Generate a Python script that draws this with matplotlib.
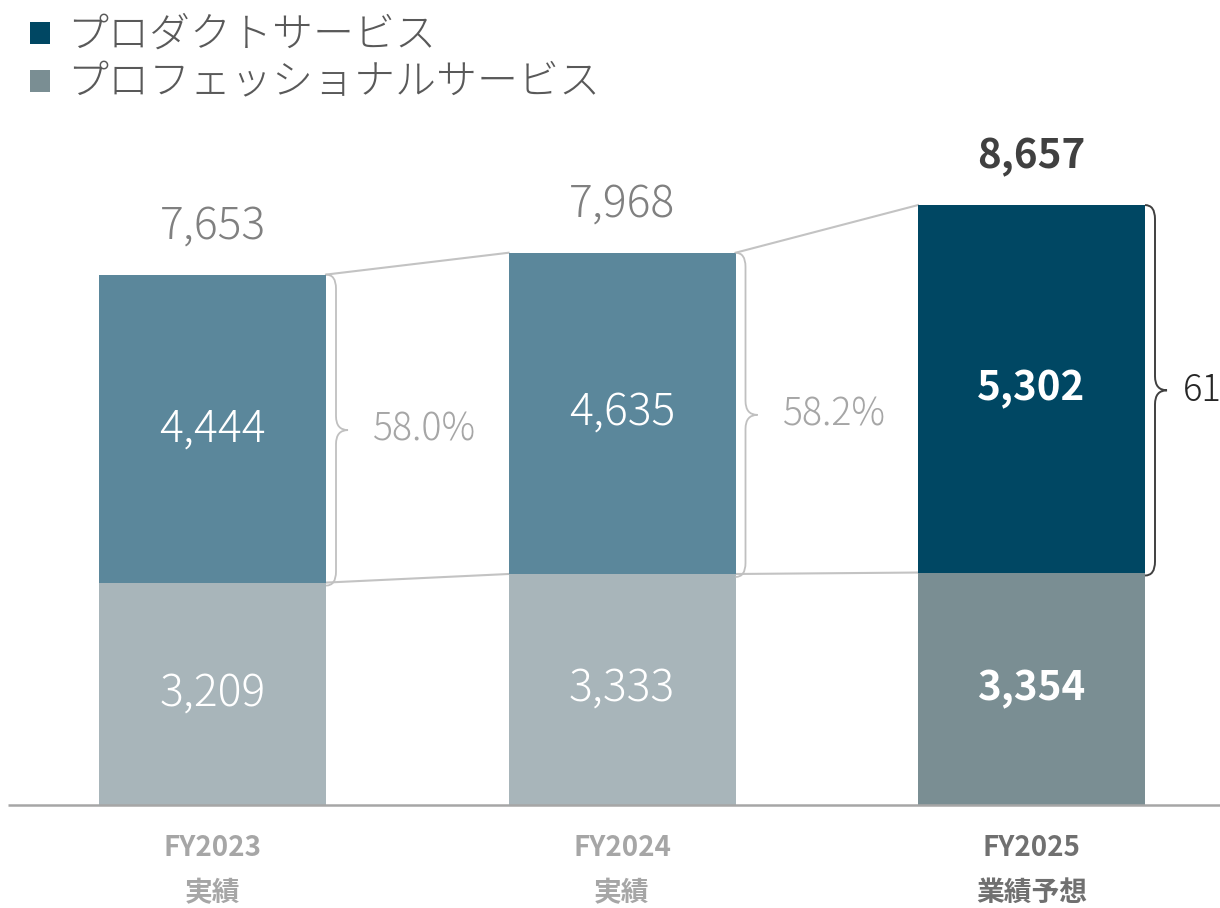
import matplotlib
matplotlib.use("Agg")
import matplotlib.pyplot as plt
from matplotlib.path import Path
from matplotlib.patches import PathPatch, Rectangle

plt.rcParams['font.family'] = ['Noto Sans CJK JP', 'DejaVu Sans']

# ---- data ----
years = ["FY2023", "FY2024", "FY2025"]
sublabels = ["実績", "実績", "業績予想"]
professional = [3209, 3333, 3354]
product = [4444, 4635, 5302]
totals = [7653, 7968, 8657]
share_labels = ["58.0%", "58.2%", "61.2%"]
legend_labels = ["プロダクトサービス", "プロフェッショナルサービス"]

# ---- style ----
top_colors = ["#5b879b", "#5b879b", "#004763"]
bot_colors = ["#a8b5ba", "#a8b5ba", "#7a8e93"]

W, H = 1220, 908
fig = plt.figure(figsize=(W / 100, H / 100), dpi=100)
ax = fig.add_axes([0, 0, 1, 1])
ax.set_axis_off()

spacing_px = 409.5
c0_px = 212.5
base_px = 103  # from bottom
scale = 600 / 8657  # px per unit
upp = 1 / scale  # units per px
xl = -c0_px / spacing_px
xr = (W - c0_px) / spacing_px
ax.set_xlim(xl, xr)
ax.set_ylim(-base_px * upp, (H - base_px) * upp)
dxp = 1 / spacing_px  # x data per px
bw = 227 * dxp

x = list(range(len(years)))
tops = [a + b for a, b in zip(professional, product)]

ax.bar(x, professional, width=bw, color=bot_colors, zorder=2)
ax.bar(x, product, bottom=professional, width=bw, color=top_colors, zorder=2)

# baseline
ax.plot([xl + 8 * dxp, xr], [0, 0], color="#a6a6a6", lw=1.8, zorder=3, solid_capstyle='butt')

# connector lines
for i in range(len(x) - 1):
    xa = x[i] + bw / 2
    xb = x[i + 1] - bw / 2
    ax.plot([xa, xb], [tops[i], tops[i + 1]], color="#c3c3c3", lw=1.5, zorder=1)
    ax.plot([xa, xb], [professional[i], professional[i + 1]], color="#c3c3c3", lw=1.5, zorder=1)


def brace(x0, ybot, ytop, color, lw):
    h = 10 * dxp
    w = 22 * dxp
    r = 14 * upp
    ymid = (ybot + ytop) / 2
    verts = [
        (x0, ytop),
        (x0 + h, ytop), (x0 + h, ytop - r),
        (x0 + h, ymid + r),
        (x0 + h, ymid), (x0 + w, ymid),
        (x0 + h, ymid), (x0 + h, ymid - r),
        (x0 + h, ybot + r),
        (x0 + h, ybot), (x0, ybot),
    ]
    codes = [Path.MOVETO, Path.CURVE3, Path.CURVE3, Path.LINETO,
             Path.CURVE3, Path.CURVE3, Path.CURVE3, Path.CURVE3,
             Path.LINETO, Path.CURVE3, Path.CURVE3]
    ax.add_patch(PathPatch(Path(verts, codes), fill=False, edgecolor=color, lw=lw, zorder=4))
    return x0 + w, ymid


for i in range(len(x)):
    last = i == len(x) - 1
    bcol = "#404040" if last else "#c0c0c0"
    tx, ty = brace(x[i] + bw / 2, professional[i] - 3 * upp, tops[i], bcol, 1.4 if last else 1.3)
    if last:
        ax.text(tx + 16 * dxp, ty, share_labels[i], ha='left', va='center',
                fontsize=26, color="#262626", fontweight='light')
    else:
        ax.text(tx + 77 * dxp, ty, share_labels[i], ha='center', va='center',
                fontsize=27, color="#a6a6a6", fontweight='light')

    # values inside
    wt = 'bold' if last else 'light'
    fs = 29 if last else 32
    ax.text(x[i], professional[i] + product[i] / 2, f"{product[i]:,}", ha='center', va='center',
            fontsize=fs, color='white', fontweight=wt, zorder=5)
    ax.text(x[i], professional[i] / 2, f"{professional[i]:,}", ha='center', va='center',
            fontsize=fs, color='white', fontweight=wt, zorder=5)
    # totals
    ax.text(x[i], tops[i] + 48 * upp, f"{totals[i]:,}", ha='center', va='center',
            fontsize=fs, color="#404040" if last else "#808080", fontweight=wt)
    # x labels
    lc = "#707070" if last else "#a6a6a6"
    ax.text(x[i], -43 * upp, years[i], ha='center', va='center', fontsize=20,
            color=lc, fontweight='bold')
    ax.text(x[i], -88 * upp, sublabels[i], ha='center', va='center', fontsize=20,
            color=lc, fontweight='bold')

# legend
for j, (lab, col) in enumerate(zip(legend_labels, ["#004763", "#7a8e93"])):
    yc = 1 - (33 + 48 * j) / H
    fig.patches.append(Rectangle((30 / W, yc - 11 / H), 20 / W, 22 / H, transform=fig.transFigure,
                                 facecolor=col, edgecolor='none'))
    fig.text(67 / W, yc - 2 / H, lab, ha='left', va='center', fontsize=29.5, color="#595959",
             fontweight='light')

fig.savefig("out.png", dpi=100)
